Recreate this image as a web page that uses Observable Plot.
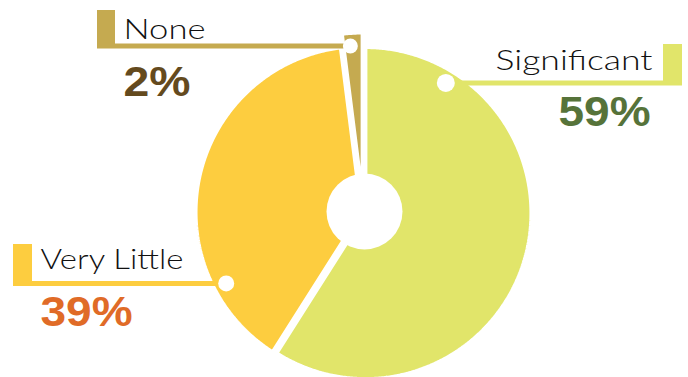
<!DOCTYPE html>
<html><head><meta charset="utf-8">
<script src="https://cdn.jsdelivr.net/npm/d3@7"></script>
<script src="https://cdn.jsdelivr.net/npm/@observablehq/plot@0.6"></script>
<style>body{margin:0;background:#fff;overflow:hidden}</style>
</head><body><div id="chart"></div>
<script>
// ---- data ----
const categories = ["Significant", "Very Little", "None"];
const values = [59, 39, 2];
const percentLabels = ["59%", "39%", "2%"];
const sliceColors = ["#E1E56A", "#FDCD3F", "#C5AA50"];
const percentColors = ["#56733A", "#E06B27", "#644A1E"];

// ---- layout (not data) ----
const W = 688, H = 377;
const center = [363, 212];
const R = 166, holeR = 38, dotR = 153, strokeW = 4;
const explode = {"Significant": 2, "Very Little": 2, "None": 14};
const layout = {
  "Significant": {dotAngle: 31.7, barX: [663, 682], barTop: 44, nameX: 495, nameY: 69, nameW: 157, pctX: 558, pctY: 125, pctW: 92, dotSize: 9},
  "Very Little": {dotAngle: 242.2, barX: [13, 32], barTop: 244, nameX: 40, nameY: 268, nameW: 143, pctX: 40, pctY: 325, pctW: 92, dotSize: 8},
  "None": {dotAngle: 355.4, barX: [97, 115], barTop: 10, nameX: 123, nameY: 38, nameW: 82, pctX: 123, pctY: 95, pctW: 67, dotSize: 7.5}
};

const rad = d => d * Math.PI / 180;
const total = d3.sum(values);
let acc = 0;
const slices = categories.map((c, i) => {
  const a0 = acc / total * 360;
  acc += values[i];
  const a1 = acc / total * 360;
  const mid = (a0 + a1) / 2;
  const e = explode[c];
  const cx = center[0] + e * Math.sin(rad(mid));
  const cy = center[1] - e * Math.cos(rad(mid));
  const pts = [{x: cx, y: cy}];
  const n = Math.max(4, Math.ceil((a1 - a0) / 0.5));
  for (let k = 0; k <= n; k++) {
    const a = a0 + (a1 - a0) * k / n;
    pts.push({x: cx + R * Math.sin(rad(a)), y: cy - R * Math.cos(rad(a))});
  }
  const L = layout[c];
  const dot = {x: cx + dotR * Math.sin(rad(L.dotAngle)), y: cy - dotR * Math.cos(rad(L.dotAngle)), r: L.dotSize};
  return {category: c, value: values[i], label: percentLabels[i], color: sliceColors[i], pctColor: percentColors[i], pts, dot, L};
});

const marks = [];
for (const s of slices) {
  marks.push(Plot.line(s.pts, {x: "x", y: "y", fill: s.color, stroke: "white", strokeWidth: strokeW, curve: "linear-closed", strokeLinejoin: "miter"}));
}
marks.push(Plot.dot([{x: center[0] + 1, y: center[1] - 1}], {x: "x", y: "y", r: holeR, fill: "white", stroke: "none"}));
for (const s of slices) {
  const L = s.L;
  marks.push(Plot.rect([s], {x1: () => L.barX[0], x2: () => L.barX[1], y1: () => L.barTop, y2: d => d.dot.y + 2.5, fill: s.color}));
  marks.push(Plot.ruleY([s], {y: d => d.dot.y, x1: d => Math.min(d.dot.x, L.barX[0]), x2: d => Math.max(d.dot.x, L.barX[1]), stroke: s.color, strokeWidth: 5}));
  marks.push(Plot.dot([s], {x: d => d.dot.x, y: d => d.dot.y, r: L.dotSize, fill: "white", stroke: "none"}));
  marks.push(Plot.text([s], {x: () => L.nameX, y: () => L.nameY, text: "category", textAnchor: "start", lineAnchor: "bottom", fontSize: 28, fontFamily: "Lato", fontWeight: 300, fill: "#111111"}));
  marks.push(Plot.text([s], {x: () => L.pctX, y: () => L.pctY, text: "label", textAnchor: "start", lineAnchor: "bottom", fontSize: 42, fontFamily: "Liberation Sans", fontWeight: 700, fill: s.pctColor}));
}

const chart = Plot.plot({
  width: W, height: H,
  margin: 0,
  x: {domain: [0, W], range: [0, W], axis: null},
  y: {domain: [0, H], range: [0, H], axis: null},
  style: {background: "white", overflow: "visible"},
  marks
});

const names = {}, pcts = {};
for (const s of slices) { names[s.category] = s.L.nameW; pcts[s.label] = s.L.pctW; }
chart.querySelectorAll("text").forEach(t => {
  const txt = t.textContent;
  if (names[txt]) { t.setAttribute("textLength", names[txt]); t.setAttribute("lengthAdjust", "spacingAndGlyphs"); }
  else if (pcts[txt]) { t.setAttribute("textLength", pcts[txt]); t.setAttribute("lengthAdjust", "spacingAndGlyphs"); }
});
document.getElementById("chart").append(chart);
</script>
</body></html>
